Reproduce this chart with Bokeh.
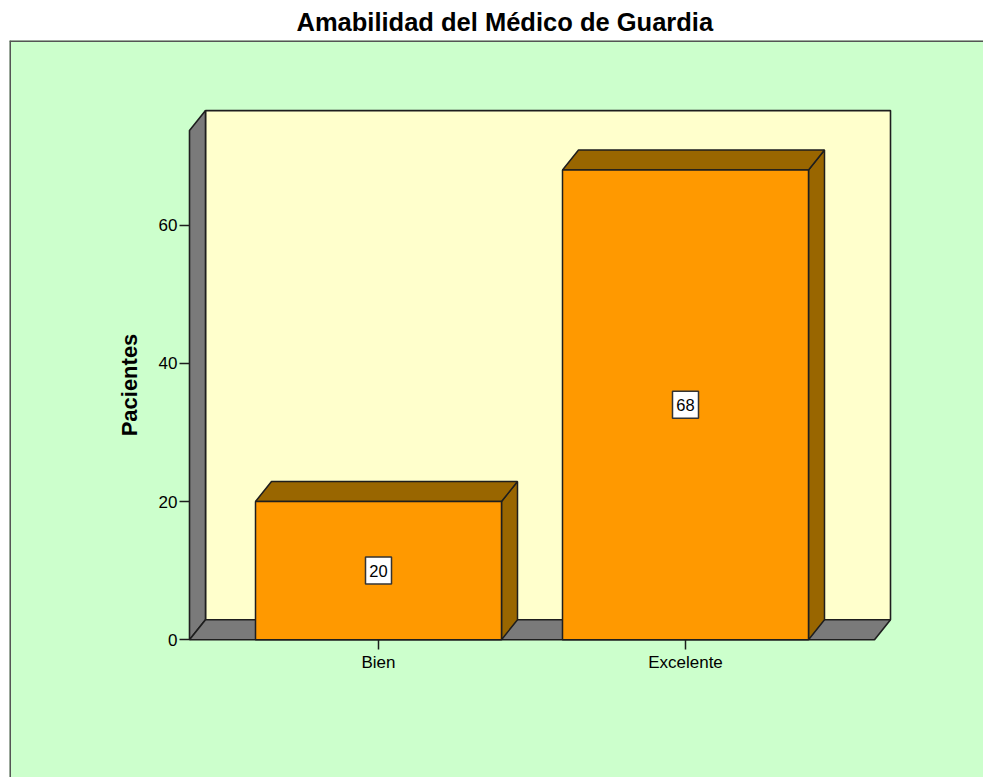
from bokeh.plotting import figure
from bokeh.models import Range1d, FixedTicker, ColumnDataSource, Span
from bokeh.embed import file_html
from bokeh.resources import INLINE

# ---- data ----
categories = ["Bien", "Excelente"]
pacientes = [20, 68]
y_ticks = [0, 20, 40, 60]
title_text = "Amabilidad del Médico de Guardia"
y_label = "Pacientes"

positions = [i + 1 for i in range(len(categories))]

# ---- geometry / style ----
ORIGIN = 1        # observed page offset of the figure
W, H = 983, 777
LEFT_B, TOP_B = 10 - ORIGIN, 40 - ORIGIN
PX_X = 307.0      # pixels per category step
PX_Y = 6.917      # pixels per patient
frame_w = W - LEFT_B
frame_h = H - TOP_B
x_start = 1 - (379 - 10) / PX_X
x_end = x_start + frame_w / PX_X
y_end = (640 - 40) / PX_Y
y_start = y_end - frame_h / PX_Y

dx = 16 / PX_X
dy = 20 / PX_Y
half = 123 / PX_X
x0 = 1 - (379 - 190) / PX_X
x1 = (len(categories) + 1) - x0
y_top = 73.7

GREEN = "#CCFFCC"
WALL = "#FFFFCC"
GRAY = "#7A7A7A"
ORANGE = "#FF9900"
DARK = "#996600"
EDGE = "#1E1E1E"
FONT = "Liberation Sans"

p = figure(width=W, height=H, output_backend="svg", toolbar_location=None,
           x_range=Range1d(x_start, x_end), y_range=Range1d(y_start, y_end),
           min_border_left=LEFT_B, min_border_top=TOP_B, min_border_right=0, min_border_bottom=0)
p.background_fill_color = GREEN
p.border_fill_color = "white"
p.outline_line_color = None
p.grid.visible = False

p.title.text = title_text
p.title.align = "left"
p.title.offset = 287
p.title.text_font = FONT
p.title.text_font_size = "25.5px"
p.title.text_font_style = "bold"
p.title.text_color = "black"

# frame border (top and left visible in reference)
p.add_layout(Span(location=x_start, dimension="height", line_color="#555555", line_width=3))
p.add_layout(Span(location=y_end, dimension="width", line_color="#555555", line_width=3))

# back wall
p.patch([x0 + dx, x1 + dx, x1 + dx, x0 + dx], [dy, dy, y_top + dy, y_top + dy],
        fill_color=WALL, line_color=EDGE, line_width=1.6)
# left wall
p.patch([x0, x0, x0 + dx, x0 + dx], [0, y_top, y_top + dy, dy],
        fill_color=GRAY, line_color=EDGE, line_width=1.6)
# floor
p.patch([x0, x0 + dx, x1 + dx, x1], [0, dy, dy, 0],
        fill_color=GRAY, line_color=EDGE, line_width=1.6)

# bars
front_xs, front_ys, top_xs, top_ys, side_xs, side_ys = [], [], [], [], [], []
for c, v in zip(positions, pacientes):
    l, r = c - half, c + half
    front_xs.append([l, r, r, l]); front_ys.append([0, 0, v, v])
    top_xs.append([l, l + dx, r + dx, r]); top_ys.append([v, v + dy, v + dy, v])
    side_xs.append([r, r, r + dx, r + dx]); side_ys.append([0, v, v + dy, dy])

p.patches(side_xs, side_ys, fill_color=DARK, line_color=EDGE, line_width=1.5)
p.patches(top_xs, top_ys, fill_color=DARK, line_color=EDGE, line_width=1.5)
p.patches(front_xs, front_ys, fill_color=ORANGE, line_color=EDGE, line_width=1.5)

# value labels
lab = ColumnDataSource(dict(x=positions, y=[v / 2 for v in pacientes],
                            text=[str(v) for v in pacientes]))
p.rect(x="x", y="y", width=26, height=27, width_units="screen", height_units="screen",
       source=lab, fill_color="white", line_color="#333333", line_width=1.5)
p.text(x="x", y="y", text="text", source=lab, text_align="center", text_baseline="middle",
       text_font_size="16.5px", text_color="black", text_font={"value": FONT})

# axes
ya = p.yaxis[0]
ya.fixed_location = x0
ya.bounds = (0, y_top)
ya.ticker = FixedTicker(ticks=y_ticks)
ya.minor_tick_line_color = None
ya.axis_line_color = None
ya.major_tick_in = 0
ya.major_tick_out = 10
ya.major_tick_line_color = EDGE
ya.major_tick_line_width = 1.5
ya.major_label_standoff = 2
ya.major_label_text_font = FONT
ya.major_label_text_font_size = "17px"
ya.major_label_text_color = "black"
ya.axis_label = y_label
ya.axis_label_text_font = FONT
ya.axis_label_text_font_size = "22px"
ya.axis_label_text_font_style = "bold"
ya.axis_label_text_color = "black"
ya.axis_label_standoff = 14

xa = p.xaxis[0]
xa.fixed_location = 0
xa.bounds = (x0, x1)
xa.ticker = FixedTicker(ticks=positions)
xa.major_label_overrides = {pos: cat for pos, cat in zip(positions, categories)}
xa.minor_tick_line_color = None
xa.axis_line_color = None
xa.major_tick_in = 0
xa.major_tick_out = 10
xa.major_tick_line_color = EDGE
xa.major_tick_line_width = 1.5
xa.major_label_standoff = 3
xa.major_label_text_font = FONT
xa.major_label_text_font_size = "17px"
xa.major_label_text_color = "black"

open("out.html", "w").write(file_html(p, INLINE))
